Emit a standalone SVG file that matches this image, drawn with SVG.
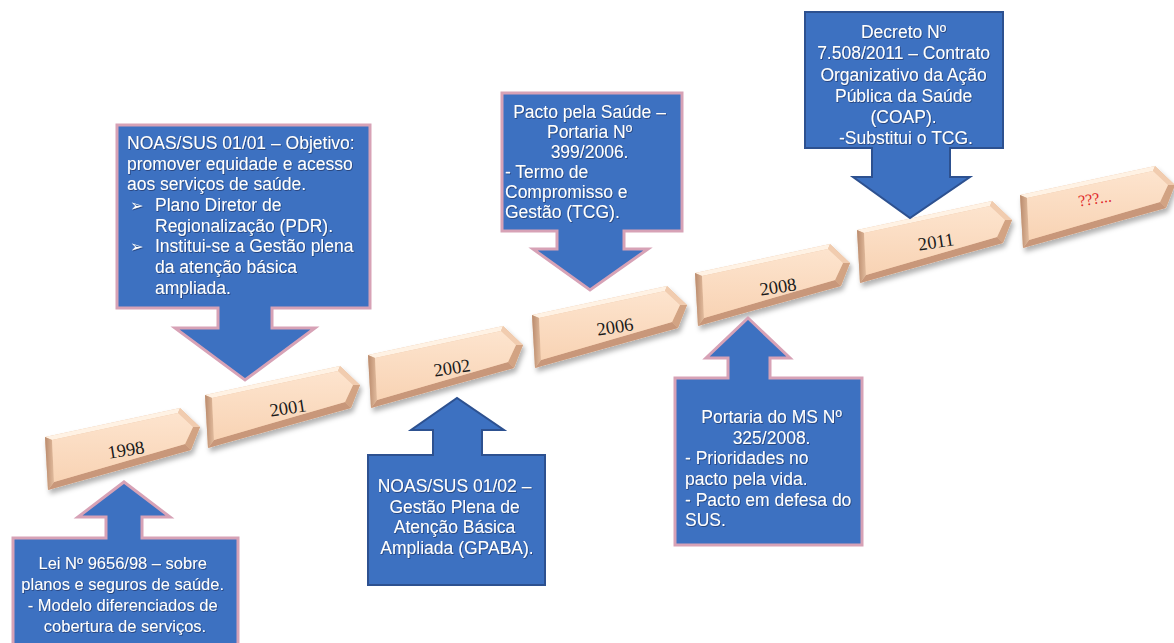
<svg xmlns="http://www.w3.org/2000/svg" width="1174" height="643" viewBox="0 0 1174 643">
  <style>
    .callout { fill: #3D71C1; stroke-width: 3; stroke-linejoin: miter; }
    .pink { stroke: #D7A2B6; }
    .navy { stroke: #2D5190; stroke-width: 2; }
    .lbl { font-family: "Liberation Sans", Arial, sans-serif; fill: #FFFFFF; filter: url(#txtshadow); }
    .mid { text-anchor: middle; }
    .bullet { font-family: "DejaVu Sans", sans-serif; font-size: 16px; font-weight: bold; fill: #FFFFFF; filter: url(#txtshadow); }
    .year { font-family: "Liberation Serif", "Times New Roman", serif; font-size: 18.5px; fill: #1A1A1A; text-anchor: middle; }
    .future { fill: #E0282A; font-size: 16px; }
  </style>
  <defs>
    <linearGradient id="face" x1="0" y1="0" x2="0" y2="1">
      <stop offset="0" stop-color="#FDE4CE"/>
      <stop offset="1" stop-color="#F8D3B4"/>
    </linearGradient>
    <linearGradient id="leftBevel" x1="0" y1="0" x2="1" y2="0">
      <stop offset="0" stop-color="#B98A6C"/>
      <stop offset="1" stop-color="#E2BC9E"/>
    </linearGradient>
    <filter id="shadow" x="-10%" y="-30%" width="130%" height="170%">
      <feDropShadow dx="2" dy="4" stdDeviation="2.5" flood-color="#000000" flood-opacity="0.3"/>
    </filter>
    <filter id="txtshadow" x="-5%" y="-20%" width="110%" height="140%">
      <feDropShadow dx="0.7" dy="0.8" stdDeviation="0.6" flood-color="#0E1E40" flood-opacity="0.65"/>
    </filter>
    <!-- bevelled pentagon used for every year on the timeline -->
    <g id="chev">
      <polygon points="0,0 135,-29 155,-10 146,13 3,53" fill="#E8C2A4"/>
      <polygon points="0,0 135,-29 133,-24 7,3" fill="#FFF2E4"/>
      <polygon points="135,-29 155,-10 148,-10 133,-24" fill="#F1CCAF"/>
      <polygon points="155,-10 146,13 140,7 148,-10" fill="#D2A383"/>
      <polygon points="146,13 3,53 9,45 140,7" fill="#C8977A"/>
      <polygon points="3,53 0,0 7,3 9,45" fill="url(#leftBevel)"/>
      <polygon points="7,3 133,-24 148,-10 140,7 9,45" fill="url(#face)"/>
    </g>
  </defs>

  <rect width="1174" height="643" fill="#FFFFFF"/>

  <!-- timeline -->
  <g id="timeline">
    <g id="y1998">
      <use href="#chev" x="45" y="437" filter="url(#shadow)"/>
      <text class="year" transform="translate(126,450) rotate(-9)" dy="6">1998</text>
    </g>
    <g id="y2001">
      <use href="#chev" x="205" y="395" filter="url(#shadow)"/>
      <text class="year" transform="translate(288,408) rotate(-9)" dy="6">2001</text>
    </g>
    <g id="y2002">
      <use href="#chev" x="368" y="355" filter="url(#shadow)"/>
      <text class="year" transform="translate(452,368) rotate(-9)" dy="6">2002</text>
    </g>
    <g id="y2006">
      <use href="#chev" x="532" y="315" filter="url(#shadow)"/>
      <text class="year" transform="translate(615,327) rotate(-9)" dy="6">2006</text>
    </g>
    <g id="y2008">
      <use href="#chev" x="695" y="273" filter="url(#shadow)"/>
      <text class="year" transform="translate(778,287) rotate(-9)" dy="6">2008</text>
    </g>
    <g id="y2011">
      <use href="#chev" x="857" y="230" filter="url(#shadow)"/>
      <text class="year" transform="translate(936,242) rotate(-9)" dy="6">2011</text>
    </g>
    <g id="yFuture">
      <use href="#chev" x="1020" y="195" filter="url(#shadow)"/>
      <text class="year future" transform="translate(1095,199) rotate(-9)" dy="5">???...</text>
    </g>
  </g>

  <!-- callout: Lei 9656/98 -->
  <g id="lei9656">
    <path class="callout pink" d="M13,538 H106 V517 H78 L124,482 L170,517 H142 V538 H238 V650 H13 Z"/>
    <text class="lbl mid" font-size="16.5">
      <tspan x="125" y="569">Lei Nº 9656/98 – sobre</tspan>
      <tspan x="125" y="590">planos e seguros de saúde.</tspan>
      <tspan x="125" y="611">- Modelo diferenciados de</tspan>
      <tspan x="125" y="632">cobertura de serviços.</tspan>
    </text>
  </g>

  <!-- callout: NOAS/SUS 01/01 -->
  <g id="noas0101">
    <path class="callout pink" d="M117,125 H370 V308 H272 V328 H315 L245,380 L175,328 H218 V308 H117 Z"/>
    <text class="lbl" font-size="17.5">
      <tspan x="127" y="149">NOAS/SUS 01/01 – Objetivo:</tspan>
      <tspan x="127" y="170">promover equidade e acesso</tspan>
      <tspan x="127" y="190">aos serviços de saúde.</tspan>
      <tspan x="155" y="211">Plano Diretor de</tspan>
      <tspan x="155" y="232">Regionalização (PDR).</tspan>
      <tspan x="155" y="252">Institui-se a Gestão plena</tspan>
      <tspan x="155" y="273">da atenção básica</tspan>
      <tspan x="155" y="294">ampliada.</tspan>
    </text>
    <text class="bullet" x="130" y="211">➢</text>
    <text class="bullet" x="130" y="252">➢</text>
  </g>

  <!-- callout: NOAS/SUS 01/02 -->
  <g id="noas0102">
    <path class="callout navy" d="M368,455 H433 V430 H411 L457,398 L504,430 H482 V455 H545 V585 H368 Z"/>
    <text class="lbl mid" font-size="17.5">
      <tspan x="457" y="492">NOAS/SUS 01/02 –</tspan>
      <tspan x="457" y="512.5">Gestão Plena de</tspan>
      <tspan x="457" y="533">Atenção Básica</tspan>
      <tspan x="457" y="553.5">Ampliada (GPABA).</tspan>
    </text>
  </g>

  <!-- callout: Pacto pela Saúde -->
  <g id="pacto2006">
    <path class="callout pink" d="M502,93 H682 V231 H624 V249 H648 L590,290 L533,249 H557 V231 H502 Z"/>
    <text class="lbl" font-size="17.5">
      <tspan class="mid" x="592" y="118">Pacto pela Saúde –</tspan>
      <tspan class="mid" x="592" y="138">Portaria Nº</tspan>
      <tspan class="mid" x="592" y="158">399/2006.</tspan>
      <tspan x="505" y="178">- Termo de</tspan>
      <tspan x="505" y="198">Compromisso e</tspan>
      <tspan x="505" y="218">Gestão (TCG).</tspan>
    </text>
  </g>

  <!-- callout: Portaria MS 325/2008 -->
  <g id="portaria2008">
    <path class="callout pink" d="M675,378 H728 V358 H706 L748,318 L790,358 H770 V378 H862 V545 H675 Z"/>
    <text class="lbl" font-size="17.5">
      <tspan class="mid" x="774" y="423">Portaria do MS Nº</tspan>
      <tspan class="mid" x="774" y="443.5">325/2008.</tspan>
      <tspan x="685" y="464">- Prioridades no</tspan>
      <tspan x="685" y="485">pacto pela vida.</tspan>
      <tspan x="685" y="505.5">- Pacto em defesa do</tspan>
      <tspan x="685" y="526">SUS.</tspan>
    </text>
  </g>

  <!-- callout: Decreto 7.508/2011 -->
  <g id="decreto2011">
    <path class="callout navy" d="M805,12 H1003 V148 H950 V177 H970 L910,218 L853,177 H872 V148 H805 Z"/>
    <text class="lbl mid" font-size="17.5">
      <tspan x="906" y="38">Decreto Nº</tspan>
      <tspan x="906" y="59">7.508/2011 – Contrato</tspan>
      <tspan x="906" y="80.5">Organizativo da Ação</tspan>
      <tspan x="906" y="102">Pública da Saúde</tspan>
      <tspan x="906" y="123">(COAP).</tspan>
      <tspan x="906" y="144">-Substitui o TCG.</tspan>
    </text>
  </g>
</svg>
